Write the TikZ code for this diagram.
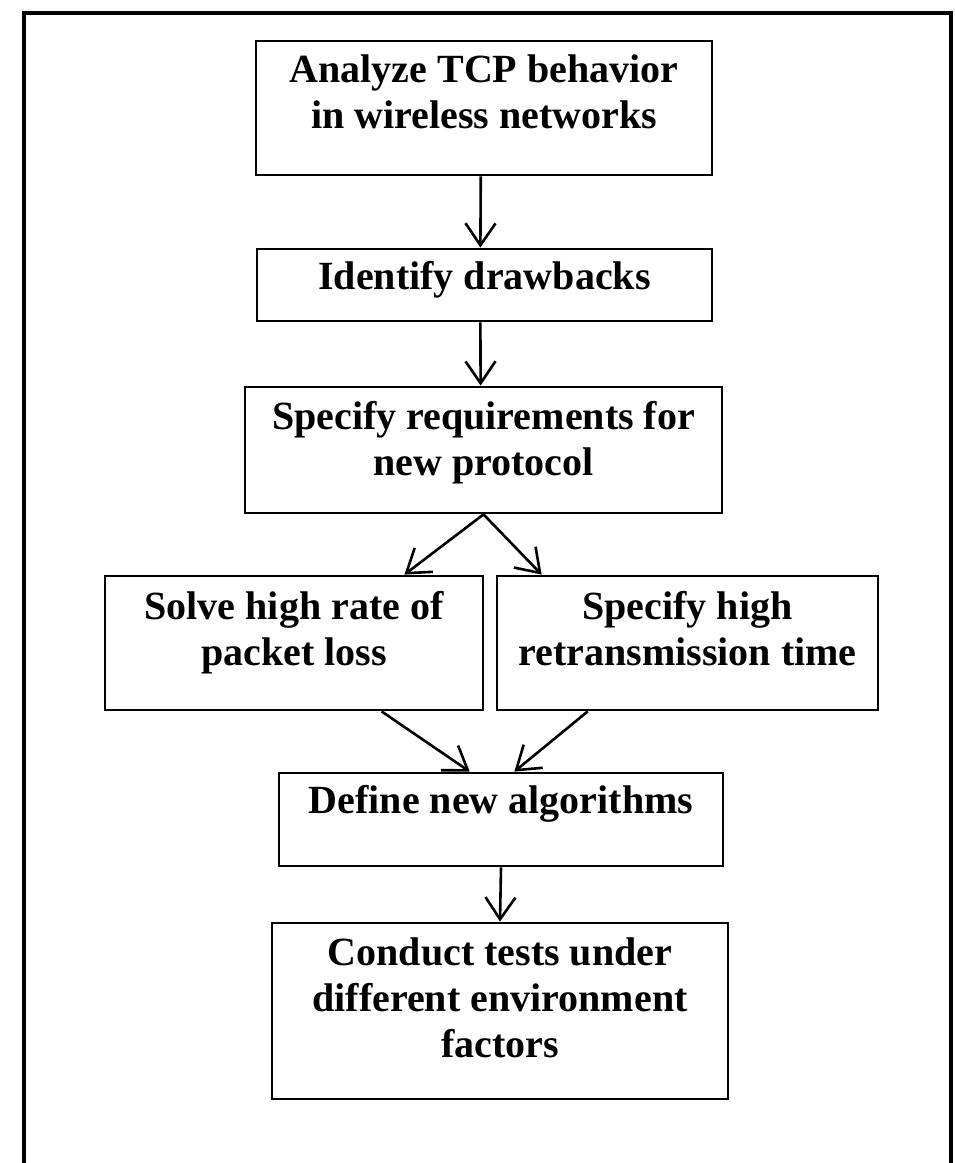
\documentclass[tikz,border=0pt]{standalone}
\usepackage{fontspec}
\setmainfont{Liberation Serif}
\usetikzlibrary{arrows.meta,calc}
\tikzset{
  box/.style={draw=black, line width=2.8pt, rectangle, inner sep=0pt, fill=white},
  label/.style={anchor=north, inner sep=0pt, align=center,
    font=\fontsize{40}{46}\selectfont\bfseries},
  conn/.style={line width=2.6pt, -{Straight Barb[length=22pt,width=30pt,line width=2.6pt]}}
}
\begin{document}
\begin{tikzpicture}[x=1pt,y=-1pt]
\useasboundingbox (0,0) rectangle (955,1163);
\fill[white] (0,0) rectangle (955,1163);
% outer frame (bottom edge lies outside the picture)
\draw[line width=3.8pt] (24,1170) -- (24,13) -- (951,13) -- (951,1170);
% boxes
\node[box, minimum width=456pt, minimum height=134pt] (b1) at (484,108) {};
\node[box, minimum width=455pt, minimum height=72pt]  (b2) at (484.5,285) {};
\node[box, minimum width=477pt, minimum height=126pt] (b3) at (483.5,450) {};
\node[box, minimum width=378pt, minimum height=134pt] (b4) at (294,643) {};
\node[box, minimum width=381pt, minimum height=134pt] (b5) at (687.5,643) {};
\node[box, minimum width=444pt, minimum height=93pt]  (b6) at (501,819.5) {};
\node[box, minimum width=456pt, minimum height=176pt] (b7) at (500,1011) {};
% texts
\node[label] (t1) at ($(b1.north)+(0,15)$) {Analyze TCP behavior\\in wireless networks};
\node[label] (t2) at ($(b2.north)+(0,14)$) {Identify drawbacks};
\node[label] (t3) at ($(b3.north)+(0,16)$) {Specify requirements for\\new protocol};
\node[label] (t4) at ($(b4.north)+(0,17)$) {Solve high rate of\\packet loss};
\node[label] (t5) at ($(b5.north)+(0,17)$) {Specify high\\retransmission time};
\node[label] (t6) at ($(b6.north)+(0,14)$) {Define new algorithms};
\node[label] (t7) at ($(b7.north)+(0,16)$) {Conduct tests under\\different environment\\factors};
% connection points
\coordinate (p1b) at ($(b1.south west)!0.493!(b1.south east)$);
\coordinate (p2t) at ($(b2.north west)!0.491!(b2.north east)$);
\coordinate (p2b) at ($(b2.south west)!0.491!(b2.south east)$);
\coordinate (p3t) at ($(b3.north west)!0.494!(b3.north east)$);
\coordinate (p4t) at ($(b4.north west)!0.79!(b4.north east)$);
\coordinate (p5t) at ($(b5.north west)!0.12!(b5.north east)$);
\coordinate (p4b) at ($(b4.south west)!0.73!(b4.south east)$);
\coordinate (p5b) at ($(b5.south west)!0.24!(b5.south east)$);
\coordinate (p6l) at ($(b6.north west)!0.43!(b6.north east)$);
\coordinate (p6r) at ($(b6.north west)!0.53!(b6.north east)$);
% connectors
\draw[conn] (p1b) -- (p2t);
\draw[conn] (p2b) -- (p3t);
\draw[conn] (b3.south) -- (p4t);
\draw[conn] (b3.south) -- (p5t);
\draw[conn] (p4b) -- (p6l);
\draw[conn] (p5b) -- (p6r);
\draw[conn] (b6.south) -- (b7.north);
\end{tikzpicture}
\end{document}
